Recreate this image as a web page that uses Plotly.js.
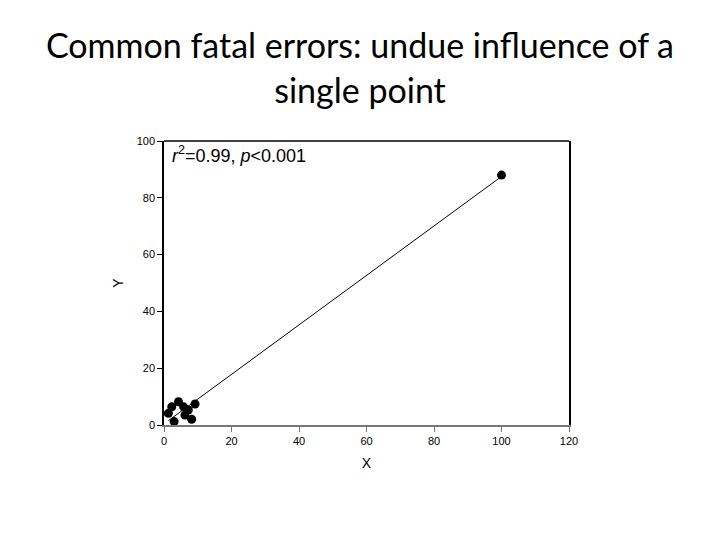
<!DOCTYPE html>
<html>
<head>
<meta charset="utf-8">
<script src="https://cdn.plot.ly/plotly-3.0.1.min.js"></script>
<style>
  body { margin: 0; background: #fff; }
  #plotarea { width: 720px; height: 540px; }
</style>
</head>
<body>
<div id="plotarea"></div>
<script>
// points
let xVals = [1.3, 2.3, 4.3, 5.8, 7.2, 6.2, 8.2, 3.0, 9.2, 100];
let yVals = [4.1, 6.4, 8.2, 6.4, 5.3, 3.5, 2.0, 1.2, 7.4, 88];
let xTicks = [0, 20, 40, 60, 80, 100, 120];
let yTicks = [0, 20, 40, 60, 80, 100];

let b = linearfit(xVals, yVals);
let xmin = Math.min(...xVals);
let xmax = Math.max(...xVals);
let xfit = [xmin, xmax];
let yfit = xfit.map(x => b[0] + b[1]*x);

let trace1 = {
    x: xfit,
    y: yfit,
    mode: 'lines',
    line: {color: '#000', width: 1},
    hoverinfo: 'skip'
};
let trace2 = {
    x: xVals,
    y: yVals,
    mode: 'markers',
    marker: {color: '#000', size: 9}
};

let tickFont = {family: 'Liberation Sans, Arial, sans-serif', size: 11, color: '#000'};

let layout = {
    width: 720,
    height: 540,
    showlegend: false,
    paper_bgcolor: '#fff',
    plot_bgcolor: '#fff',
    margin: {l: 164, r: 151, t: 141, b: 115},
    title: {
        text: 'Common fatal errors: undue influence of a<br>single point',
        font: {family: 'Lato, Open Sans, sans-serif', size: 34, color: '#000'},
        x: 0.5, xanchor: 'center',
        y: 0.892, yanchor: 'top'
    },
    xaxis: {
        range: [0, 120],
        tickvals: xTicks,
        ticks: 'outside', ticklen: 5, tickcolor: '#777',
        showline: true, linecolor: '#777', linewidth: 1.5,
        showgrid: false, zeroline: false,
        tickfont: tickFont,
        title: {text: 'X', font: {family: 'Liberation Sans, Arial, sans-serif', size: 14, color: '#000'}, standoff: 12}
    },
    yaxis: {
        range: [0, 100],
        tickvals: yTicks,
        ticks: 'outside', ticklen: 5, tickcolor: '#000',
        showline: true, linecolor: '#000', linewidth: 1.5, mirror: true,
        showgrid: false, zeroline: false,
        tickfont: tickFont,
        title: {text: 'Y', font: {family: 'Liberation Sans, Arial, sans-serif', size: 14, color: '#000'}, standoff: 10}
    },
    shapes: [{
        type: 'line', xref: 'paper', yref: 'paper',
        x0: 0, x1: 1, y0: 1, y1: 1,
        line: {color: '#000', width: 1.5}
    }],
    annotations: [{
        xref: 'paper', yref: 'paper',
        x: 0.015, y: 1.0, xanchor: 'left', yanchor: 'top',
        showarrow: false,
        text: '<i>r</i><sup>2</sup>=0.99, <i>p</i>&lt;0.001',
        font: {family: 'Liberation Sans, Arial, sans-serif', size: 18, color: '#000'}
    }]
};

Plotly.newPlot('plotarea', [trace1, trace2], layout, {displayModeBar: false, displaylogo: false});

//Linear fit least square
function linearfit(x, y){
    let n = x.length;
    let sumX = 0, sumX2 = 0, sumY = 0, sumXY = 0;
    for(let i = 0; i < n; i++){
        sumX += x[i];
        sumX2 += x[i]*x[i];
        sumY += y[i];
        sumXY += x[i]*y[i];
    }
    let d = n*sumX2 - sumX*sumX;
    return [(sumY*sumX2 - sumX*sumXY)/d, (n*sumXY - sumX*sumY)/d];
}
</script>
</body>
</html>
